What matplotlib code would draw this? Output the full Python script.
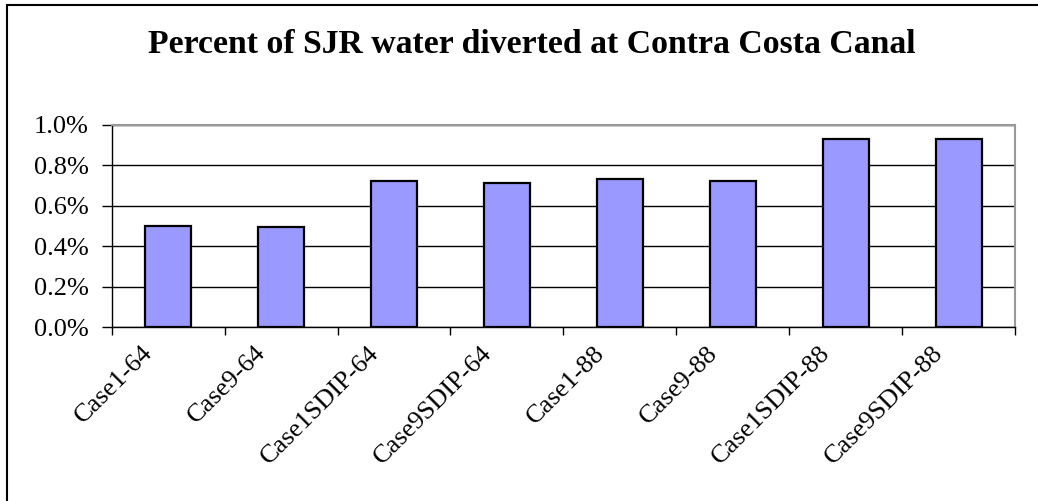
import matplotlib
matplotlib.use("Agg")
import matplotlib.pyplot as plt
from matplotlib.patches import Rectangle
from matplotlib.ticker import FuncFormatter
from matplotlib.transforms import ScaledTranslation

#data
cases = ["Case1-64", "Case9-64", "Case1SDIP-64", "Case9SDIP-64",
         "Case1-88", "Case9-88", "Case1SDIP-88", "Case9SDIP-88"]
pct_diverted = [0.502, 0.494, 0.722, 0.712, 0.732, 0.722, 0.929, 0.929]
y_ticks = [0.0, 0.2, 0.4, 0.6, 0.8, 1.0]

plt.rcParams["font.family"] = ["Liberation Serif", "DejaVu Serif"]

fig = plt.figure(figsize=(10.38, 5.01), dpi=100)
ax = fig.add_axes([0.1076, 0.3467, 0.978 - 0.1076, 0.7505 - 0.3467])

#outer chart border (cut off on right/bottom like the original)
fig.patches.append(Rectangle((7 / 1038, -0.05), 1.2, 1 - 5 / 501 + 0.05,
                             transform=fig.transFigure, fill=False,
                             edgecolor="black", linewidth=1.5))

x = range(len(cases))
ax.bar(x, pct_diverted, width=0.41, color="#9999FF", edgecolor="black",
       linewidth=1.6, zorder=3)

ax.set_xlim(-0.5, len(cases) - 0.5)
ax.set_ylim(0, 1.0)
ax.set_yticks(y_ticks)
ax.yaxis.set_major_formatter(FuncFormatter(lambda v, p: f"{v:.1f}%"))
ax.grid(axis="y", color="black", linewidth=1.0, zorder=0)

ax.set_xticks(list(x))
ax.set_xticklabels(cases, rotation=45, ha="right", va="top", fontsize=19)
ax.set_xticks([i + 0.5 for i in range(-1, len(cases))], minor=True)
ax.tick_params(axis="x", which="major", length=0, pad=10.5)
ax.tick_params(axis="x", which="minor", length=6, width=1.0, direction="out")
ax.tick_params(axis="y", length=7, width=1.0, pad=9.5, labelsize=19)

#excel puts the rotated labels a bit left of the category centre
shift = ScaledTranslation(-11 / 100, 0, fig.dpi_scale_trans)
for lbl in ax.get_xticklabels():
    lbl.set_transform(lbl.get_transform() + shift)

for side in ["top", "right"]:
    ax.spines[side].set_color("#999999")
    ax.spines[side].set_linewidth(1.5)
for side in ["left", "bottom"]:
    ax.spines[side].set_color("black")
    ax.spines[side].set_linewidth(1.0)

fig.text(0.5125, 0.894, "Percent of SJR water diverted at Contra Costa Canal",
         ha="center", va="baseline", fontsize=24.3, fontweight="bold")

fig.savefig("out.png", dpi=100)
